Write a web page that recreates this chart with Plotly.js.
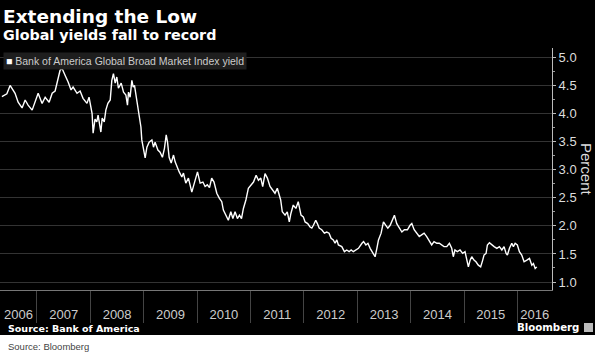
<!DOCTYPE html>
<html>
<head>
<meta charset="utf-8">
<script src="https://cdn.plot.ly/plotly-3.0.1.min.js"></script>
<style>html,body{margin:0;padding:0;background:#fff;}#chart{width:595px;height:354px;}</style>
</head>
<body>
<div id="chart"></div>
<script>
// ---- data ----
const seriesName = "Bank of America Global Broad Market Index yield";
const dates = [
"2006-05-06","2006-06-09","2006-07-01","2006-08-04","2006-08-25","2006-09-21","2006-10-12","2006-11-01","2006-11-29","2006-12-19",
"2007-01-09","2007-02-05","2007-02-26","2007-03-25","2007-04-15","2007-05-05","2007-05-19","2007-06-08","2007-06-22","2007-07-02",
"2007-07-12","2007-08-02","2007-08-22","2007-09-05","2007-10-02","2007-10-23","2007-11-12","2007-12-09","2007-12-23",
"2008-01-13","2008-01-20","2008-02-02","2008-02-14","2008-02-23","2008-03-13","2008-03-22","2008-04-05","2008-04-16","2008-04-30",
"2008-05-16","2008-05-27","2008-06-07","2008-06-19","2008-06-30","2008-07-11","2008-07-30","2008-08-15","2008-08-31","2008-09-11",
"2008-09-18","2008-09-29","2008-10-11","2008-10-20","2008-10-29","2008-11-07","2008-11-21","2008-11-30","2008-12-12","2008-12-18","2008-12-29",
"2009-01-10","2009-01-22","2009-02-06","2009-02-25","2009-03-08","2009-03-19","2009-04-07","2009-04-22","2009-05-08","2009-05-22",
"2009-06-03","2009-06-12","2009-06-23","2009-07-07","2009-07-23","2009-08-03","2009-08-15","2009-08-31","2009-09-18","2009-09-29",
"2009-10-15","2009-11-02","2009-11-25","2009-12-13",
"2010-01-03","2010-01-21","2010-02-09","2010-02-24","2010-03-11","2010-03-26","2010-04-10","2010-04-26","2010-05-15","2010-06-02",
"2010-06-18","2010-06-29","2010-07-17","2010-08-02","2010-08-19","2010-09-02","2010-09-17","2010-10-03","2010-10-17","2010-10-31",
"2010-11-13","2010-11-30","2010-12-17",
"2011-01-03","2011-01-21","2011-02-08","2011-02-24","2011-03-12","2011-03-25","2011-04-10","2011-04-26","2011-05-14","2011-06-02",
"2011-06-17","2011-07-03","2011-07-17","2011-07-26","2011-08-06","2011-08-25","2011-09-09","2011-09-23","2011-10-04","2011-10-20",
"2011-11-07","2011-11-23","2011-12-12","2011-12-28",
"2012-01-09","2012-01-27","2012-02-12","2012-02-24","2012-03-06","2012-03-22","2012-04-02","2012-04-14","2012-05-02","2012-05-20",
"2012-06-05","2012-06-21","2012-07-05","2012-07-20","2012-08-01","2012-08-13","2012-08-24","2012-09-16","2012-10-04","2012-10-20",
"2012-11-05","2012-11-19","2012-12-04","2012-12-21",
"2013-01-08","2013-02-01","2013-02-12","2013-02-28","2013-03-14","2013-03-29","2013-04-14","2013-05-02","2013-05-14","2013-05-25",
"2013-06-12","2013-06-28","2013-07-14","2013-07-28","2013-08-13","2013-08-29","2013-09-11","2013-09-27","2013-10-13","2013-11-01",
"2013-11-18","2013-12-09","2013-12-27",
"2014-01-08","2014-01-24","2014-02-11","2014-02-28","2014-03-16","2014-04-02","2014-04-20","2014-05-08","2014-05-24","2014-06-09",
"2014-06-28","2014-07-15","2014-07-31","2014-08-16","2014-09-04","2014-09-22","2014-10-08","2014-10-19","2014-10-30","2014-11-15",
"2014-12-04","2014-12-22",
"2015-01-07","2015-01-19","2015-01-30","2015-02-11","2015-02-22","2015-03-09","2015-03-23","2015-04-08","2015-04-24","2015-05-08",
"2015-05-17","2015-05-31","2015-06-09","2015-06-23","2015-07-09","2015-07-25","2015-08-13","2015-08-30","2015-09-16","2015-10-01",
"2015-10-15","2015-10-24","2015-11-07","2015-11-23","2015-12-04","2015-12-16","2015-12-31",
"2016-01-14","2016-01-30","2016-02-15","2016-03-05","2016-03-23","2016-04-08","2016-04-19","2016-05-01","2016-05-12"
];
const yields = [
4.30,4.35,4.50,4.36,4.20,4.10,4.24,4.15,4.06,4.20,
4.36,4.18,4.29,4.20,4.36,4.40,4.54,4.77,4.80,4.72,
4.68,4.56,4.42,4.47,4.36,4.40,4.27,4.18,4.29,
4.00,3.65,3.90,3.85,3.97,3.67,3.92,3.85,4.06,4.18,
4.24,4.59,4.71,4.54,4.65,4.45,4.54,4.38,4.33,4.15,
4.38,4.29,4.59,4.47,4.50,4.33,4.12,3.94,3.76,3.53,3.40,
3.21,3.40,3.49,3.53,3.40,3.49,3.35,3.31,3.22,3.38,
3.62,3.49,3.22,3.12,3.26,3.14,3.05,2.96,2.87,2.94,
2.76,2.85,2.60,2.76,
2.96,2.76,2.78,2.70,2.73,2.68,2.85,2.78,2.58,2.49,
2.43,2.28,2.19,2.10,2.25,2.13,2.25,2.13,2.19,2.13,
2.31,2.46,2.67,
2.73,2.78,2.90,2.81,2.85,2.70,2.93,2.85,2.70,2.64,
2.58,2.67,2.55,2.46,2.25,2.19,2.25,2.07,2.22,2.37,
2.31,2.43,2.19,2.16,
2.07,2.04,1.98,1.96,2.01,2.10,2.04,1.96,1.93,1.87,
1.89,1.87,1.78,1.75,1.69,1.75,1.66,1.63,1.54,1.57,
1.54,1.57,1.54,1.57,
1.60,1.69,1.72,1.66,1.69,1.60,1.54,1.45,1.60,1.75,
1.87,2.07,2.01,1.96,2.01,2.10,2.19,2.04,1.98,1.89,
1.93,1.93,2.01,
2.04,1.93,1.87,1.81,1.84,1.87,1.81,1.72,1.66,1.72,
1.69,1.69,1.66,1.63,1.63,1.69,1.60,1.45,1.57,1.54,
1.57,1.51,
1.54,1.39,1.27,1.39,1.45,1.39,1.36,1.30,1.27,1.39,
1.48,1.51,1.66,1.70,1.66,1.63,1.60,1.63,1.57,1.63,
1.51,1.48,1.60,1.69,1.63,1.69,1.66,
1.54,1.48,1.36,1.39,1.42,1.30,1.33,1.24,1.27
];
const yearLabels = ["2006","2007","2008","2009","2010","2011","2012","2013","2014","2015","2016"];
const gridYears = ["2008","2010","2012","2014","2016"];
const yTicks = [1.0,1.5,2.0,2.5,3.0,3.5,4.0,4.5,5.0];

// ---- layout geometry ----
const W = 595, H = 354, ML = 0, MR = 43, MT = 48, MB = 64;
const PW = W - ML - MR, PH = H - MT - MB;
const xRange = ["2006-04-23", "2016-08-24"];
const yRange = [0.858, 5.166];
const px = x => (x - ML) / PW;
const py = y => (H - MB - y) / PH;

function toMs(s){ return new Date(s + "T00:00:00Z").getTime(); }
function fmt(ms){ return new Date(ms).toISOString().slice(0,19).replace("T"," "); }
const r0 = toMs(xRange[0]), r1 = toMs(xRange[1]);
const labelPos = yearLabels.map(y => {
  const a = Math.max(toMs(y + "-01-01"), r0);
  const b = Math.min(toMs((+y + 1) + "-01-01"), r1);
  return fmt((a + b) / 2);
});
const yearStarts = yearLabels.slice(1).map(y => y + "-01-01");
const gridVals = gridYears.map(y => y + "-01-01");

const FONT = "Liberation Sans, Arial, sans-serif";
const BOLD = "DejaVu Sans, Liberation Sans, sans-serif";

const trace = {
  x: dates, y: yields, type: "scatter", mode: "lines", name: seriesName,
  line: {color: "#ffffff", width: 1.4}, hoverinfo: "x+y"
};

const layout = {
  width: W, height: H,
  margin: {l: ML, r: MR, t: MT, b: MB, pad: 0},
  paper_bgcolor: "#ffffff", plot_bgcolor: "#000000",
  showlegend: false,
  font: {family: FONT, color: "#cccccc"},
  xaxis: {
    type: "date", range: xRange, fixedrange: true,
    tickmode: "array", tickvals: labelPos, ticktext: yearLabels,
    ticks: "", showgrid: false, zeroline: false,
    showline: true, linecolor: "#777777", linewidth: 1,
    tickfont: {size: 13, color: "#cccccc", family: FONT},
    ticklabelstandoff: 12,
    minor: {tickmode: "array", tickvals: yearStarts, ticks: "outside", ticklen: 32, tickcolor: "#444444", tickwidth: 1, showgrid: false}
  },
  xaxis2: {
    type: "date", range: xRange, overlaying: "x", anchor: "y",
    tickmode: "array", tickvals: gridVals, showticklabels: false, ticks: "",
    showgrid: true, gridcolor: "#333333", gridwidth: 1, zeroline: false, showline: false
  },
  yaxis: {
    side: "right", range: yRange, fixedrange: true,
    tickmode: "array", tickvals: yTicks, tickformat: ".1f",
    ticks: "outside", ticklen: 3, tickcolor: "#bbbbbb",
    showline: true, linecolor: "#bbbbbb", linewidth: 1,
    showgrid: true, gridcolor: "#333333", gridwidth: 1, zeroline: false,
    tickfont: {size: 13, color: "#dddddd", family: FONT},
    minor: {dtick: 0.25, ticks: "outside", ticklen: 2, tickcolor: "#999999", showgrid: false}
  },
  shapes: [
    {type: "rect", xref: "paper", yref: "paper", x0: px(0), x1: px(W), y0: py(335), y1: py(0),
     fillcolor: "#000000", line: {width: 0}, layer: "below"},
    {type: "rect", xref: "paper", yref: "paper", x0: px(584), x1: px(593), y0: py(332), y1: py(323),
     fillcolor: "#bbbbbb", line: {width: 0}, layer: "above"}
  ],
  annotations: [
    {text: "<b>Extending the Low</b>", xref: "paper", yref: "paper", x: px(1), y: py(16), xanchor: "left", yanchor: "middle",
     showarrow: false, font: {size: 18.5, color: "#ffffff", family: BOLD}},
    {text: "<b>Global yields fall to record</b>", xref: "paper", yref: "paper", x: px(1), y: py(35), xanchor: "left", yanchor: "middle",
     showarrow: false, font: {size: 14.3, color: "#ffffff", family: BOLD}},
    {text: '<span style="color:#ffffff">■</span> ' + seriesName, xref: "paper", yref: "paper", x: px(3), y: py(61.5),
     xanchor: "left", yanchor: "middle", showarrow: false, bgcolor: "#1e1e1e", borderpad: 2,
     font: {size: 10.5, color: "#cccccc", family: "Liberation Sans Narrow, " + FONT}},
    {text: "Percent", xref: "paper", yref: "paper", x: px(587), y: py(169), xanchor: "center", yanchor: "middle",
     textangle: 90, showarrow: false, font: {size: 15, color: "#dddddd", family: FONT}},
    {text: "<b>Source: Bank of America</b>", xref: "paper", yref: "paper", x: px(6), y: py(328), xanchor: "left", yanchor: "middle",
     showarrow: false, font: {size: 9.5, color: "#ffffff", family: BOLD}},
    {text: "<b>Bloomberg</b>", xref: "paper", yref: "paper", x: px(581), y: py(327), xanchor: "right", yanchor: "middle",
     showarrow: false, font: {size: 10.2, color: "#ffffff", family: BOLD}},
    {text: "Source: Bloomberg", xref: "paper", yref: "paper", x: px(6), y: py(346), xanchor: "left", yanchor: "middle",
     showarrow: false, font: {size: 9.5, color: "#444444", family: FONT}}
  ]
};

Plotly.newPlot("chart", [trace], layout, {staticPlot: true, displayModeBar: false});
</script>
</body>
</html>
